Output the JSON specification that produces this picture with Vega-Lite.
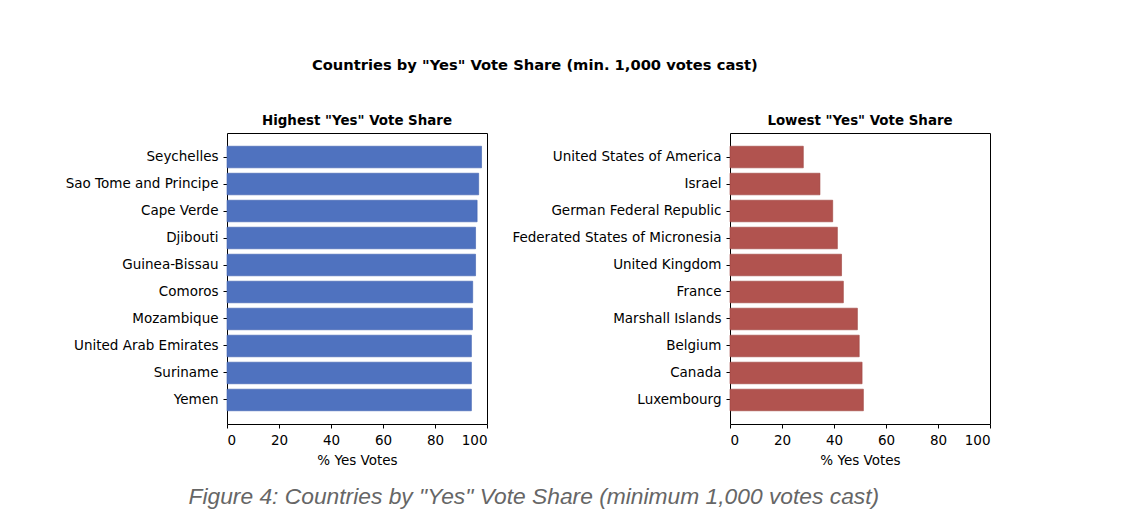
{
  "$schema": "https://vega.github.io/schema/vega-lite/v6.json",
  "background": "white",
  "padding": {"left": 64, "top": 58, "right": 10, "bottom": 10},
  "datasets": {
    "highest": [
      {"country": "Seychelles", "yes_share": 97.9},
      {"country": "Sao Tome and Principe", "yes_share": 96.8},
      {"country": "Cape Verde", "yes_share": 96.2},
      {"country": "Djibouti", "yes_share": 95.6},
      {"country": "Guinea-Bissau", "yes_share": 95.6},
      {"country": "Comoros", "yes_share": 94.5},
      {"country": "Mozambique", "yes_share": 94.4},
      {"country": "United Arab Emirates", "yes_share": 94.0},
      {"country": "Suriname", "yes_share": 94.0},
      {"country": "Yemen", "yes_share": 94.0}
    ],
    "lowest": [
      {"country": "United States of America", "yes_share": 28.2},
      {"country": "Israel", "yes_share": 34.6},
      {"country": "German Federal Republic", "yes_share": 39.5},
      {"country": "Federated States of Micronesia", "yes_share": 41.3},
      {"country": "United Kingdom", "yes_share": 42.9},
      {"country": "France", "yes_share": 43.6},
      {"country": "Marshall Islands", "yes_share": 49.0},
      {"country": "Belgium", "yes_share": 49.7},
      {"country": "Canada", "yes_share": 50.8},
      {"country": "Luxembourg", "yes_share": 51.3}
    ]
  },
  "title": {
    "text": "Figure 4: Countries by \"Yes\" Vote Share (minimum 1,000 votes cast)",
    "orient": "bottom",
    "anchor": "middle",
    "font": "Liberation Sans",
    "fontStyle": "italic",
    "fontWeight": "normal",
    "fontSize": 22.8,
    "color": "#666666",
    "offset": 18,
    "dx": 6
  },
  "vconcat": [
    {
      "title": {
        "text": "Countries by \"Yes\" Vote Share (min. 1,000 votes cast)",
        "anchor": "middle",
        "fontSize": 14.7,
        "fontWeight": "bold",
        "color": "#000000",
        "offset": 40,
        "dx": 7
      },
      "spacing": 23,
      "hconcat": [
        {
          "title": "Highest \"Yes\" Vote Share",
          "data": {"name": "highest"},
          "width": 260,
          "height": 291,
          "mark": {"type": "bar", "color": "#4f72bf", "stroke": "#3f62b0", "strokeWidth": 0.6},
          "encoding": {
            "y": {
              "field": "country", "type": "nominal", "sort": null,
              "scale": {"paddingInner": 0.2, "paddingOuter": 0.49},
              "axis": {"title": null}
            },
            "x": {
              "field": "yes_share", "type": "quantitative",
              "scale": {"domain": [0, 100], "nice": false},
              "axis": {"title": "% Yes Votes", "values": [0, 20, 40, 60, 80, 100]}
            }
          }
        },
        {
          "title": "Lowest \"Yes\" Vote Share",
          "data": {"name": "lowest"},
          "width": 260,
          "height": 291,
          "mark": {"type": "bar", "color": "#b1534f", "stroke": "#a04440", "strokeWidth": 0.6},
          "encoding": {
            "y": {
              "field": "country", "type": "nominal", "sort": null,
              "scale": {"paddingInner": 0.2, "paddingOuter": 0.49},
              "axis": {"title": null}
            },
            "x": {
              "field": "yes_share", "type": "quantitative",
              "scale": {"domain": [0, 100], "nice": false},
              "axis": {"title": "% Yes Votes", "values": [0, 20, 40, 60, 80, 100]}
            }
          }
        }
      ]
    }
  ],
  "config": {
    "font": "DejaVu Sans",
    "view": {"stroke": "#000000", "strokeWidth": 1},
    "title": {"fontSize": 13.4, "fontWeight": "bold", "color": "#000000", "offset": 6},
    "axis": {
      "grid": false,
      "domain": false,
      "tickColor": "#000000",
      "tickSize": 4,
      "labelColor": "#000000",
      "labelFontSize": 13.5,
      "labelLimit": 400,
      "labelPadding": 5,
      "titleFontSize": 13.5,
      "titleFontWeight": "normal",
      "titleColor": "#000000",
      "titlePadding": 7
    }
  }
}
